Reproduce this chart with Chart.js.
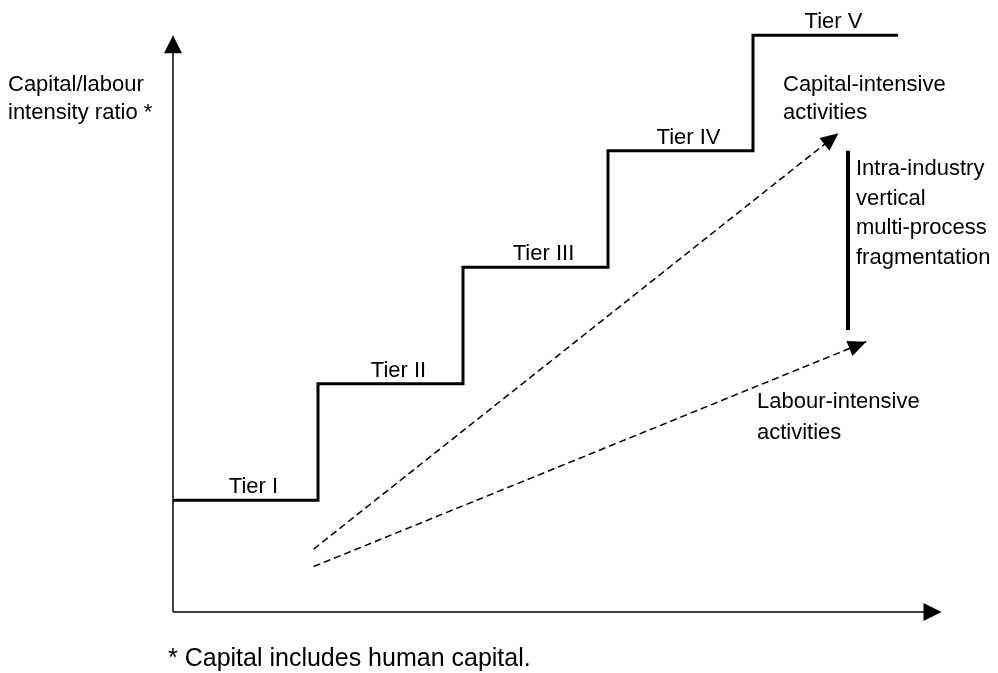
<!DOCTYPE html>
<html lang="en">
<head>
    <meta charset="UTF-8">
    <title>Capital/labour intensity tiers</title>
    <script src="https://cdn.jsdelivr.net/npm/chart.js"></script>
    <style>
        body { margin: 0; background: #fff; }
        #wrap { width: 998px; height: 673px; position: relative; }
    </style>
</head>
<body>
    <div id="wrap"><canvas id="chart"></canvas></div>
    <script>
        // step edges along the horizontal axis and the level of each tier
        const tierNames = ['Tier I', 'Tier II', 'Tier III', 'Tier IV', 'Tier V'];
        const tierEdges = [0, 1, 2, 3, 4, 5];
        const tierLevels = [0.96, 1.96, 2.96, 3.96, 4.95];

        // dashed trend arrows: [start, end] points
        const capitalArrow = [{ x: 0.97, y: 0.54 }, { x: 4.59, y: 4.11 }];
        const labourArrow = [{ x: 0.97, y: 0.39 }, { x: 4.78, y: 2.32 }];

        // vertical bar for fragmentation range
        const fragBar = [{ x: 4.655, y: 3.96 }, { x: 4.655, y: 2.42 }];

        const axisXEnd = 5.3;
        const axisYEnd = 4.95;

        const stepData = tierEdges.map((x, i) => ({ x: x, y: tierLevels[Math.min(i, tierLevels.length - 1)] }));

        const FONT = '22px "Liberation Sans", Arial, sans-serif';

        function arrowHead(ctx, x1, y1, x2, y2, len, half) {
            const a = Math.atan2(y2 - y1, x2 - x1);
            ctx.beginPath();
            ctx.moveTo(x2, y2);
            ctx.lineTo(x2 - len * Math.cos(a) + half * Math.sin(a), y2 - len * Math.sin(a) - half * Math.cos(a));
            ctx.lineTo(x2 - len * Math.cos(a) - half * Math.sin(a), y2 - len * Math.sin(a) + half * Math.cos(a));
            ctx.closePath();
            ctx.fill();
        }

        const decorations = {
            id: 'decorations',
            afterDraw(chart) {
                const ctx = chart.ctx;
                const sx = chart.scales.x, sy = chart.scales.y;
                const px = v => sx.getPixelForValue(v);
                const py = v => sy.getPixelForValue(v);
                ctx.save();
                ctx.fillStyle = '#000';

                // axis arrowheads
                arrowHead(ctx, px(0), py(0), px(axisXEnd), py(0), 18, 9);
                arrowHead(ctx, px(0), py(0), px(0), py(axisYEnd), 18, 9);

                // dashed arrowheads
                [capitalArrow, labourArrow].forEach(a => {
                    arrowHead(ctx, px(a[0].x), py(a[0].y), px(a[1].x), py(a[1].y), 18, 8);
                });

                ctx.font = FONT;
                ctx.textBaseline = 'alphabetic';

                // tier labels
                ctx.textAlign = 'center';
                tierNames.forEach((name, i) => {
                    const mid = (tierEdges[i] + tierEdges[i + 1]) / 2;
                    ctx.fillText(name, px(mid) + 8, py(tierLevels[i]) - 7);
                });

                // annotations
                ctx.textAlign = 'left';
                const lh = 28;
                ctx.fillText('Capital/labour', 8, 91);
                ctx.fillText('intensity ratio *', 8, 91 + lh);

                ctx.fillText('Capital-intensive', 783, 91);
                ctx.fillText('activities', 783, 91 + lh);

                ['Intra-industry', 'vertical', 'multi-process', 'fragmentation'].forEach((t, i) => {
                    ctx.fillText(t, 856, 175 + i * 29.5);
                });

                ctx.fillText('Labour-intensive', 757, 408);
                ctx.fillText('activities', 757, 408 + lh + 3);

                ctx.font = '25px "Liberation Sans", Arial, sans-serif';
                ctx.fillText('* Capital includes human capital.', 168, 666);
                ctx.restore();
            }
        };

        const line = (data, extra) => Object.assign({
            data: data,
            showLine: true,
            borderColor: '#000',
            pointRadius: 0,
            clip: false,
            borderCapStyle: 'butt',
            borderJoinStyle: 'miter'
        }, extra);

        new Chart(document.getElementById('chart').getContext('2d'), {
            type: 'scatter',
            data: {
                datasets: [
                    line([{ x: 0, y: 0 }, { x: axisXEnd - 0.1, y: 0 }], { borderWidth: 1.5 }),
                    line([{ x: 0, y: 0 }, { x: 0, y: axisYEnd - 0.12 }], { borderWidth: 1.5 }),
                    line(stepData, { borderWidth: 3, stepped: 'before' }),
                    line(capitalArrow, { borderWidth: 1.5, borderDash: [7, 4] }),
                    line(labourArrow, { borderWidth: 1.5, borderDash: [7, 4] }),
                    line(fragBar, { borderWidth: 4 })
                ]
            },
            options: {
                responsive: true,
                maintainAspectRatio: false,
                animation: false,
                layout: { padding: { left: 173, right: 27.5, top: 6.2, bottom: 61 } },
                plugins: { legend: { display: false }, tooltip: { enabled: false } },
                scales: {
                    x: { type: 'linear', min: 0, max: 5.5, display: false },
                    y: { type: 'linear', min: 0, max: 5.2, display: false }
                }
            },
            plugins: [decorations]
        });
    </script>
</body>
</html>
